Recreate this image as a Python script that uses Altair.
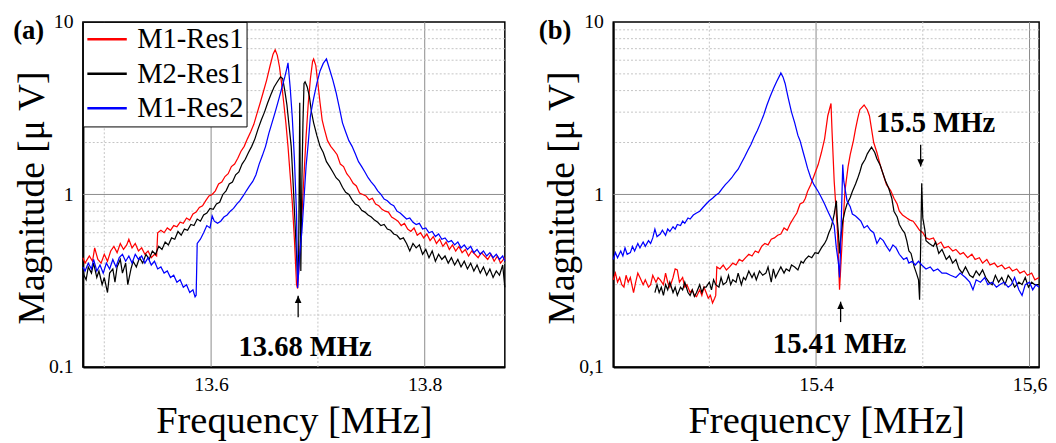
import altair as alt
import pandas as pd

SERIES = ["M1-Res1", "M2-Res1", "M1-Res2"]
COLORS = ["#ff0000", "#000000", "#0000ff"]
FONT = "Liberation Serif, Times New Roman, Tinos, DejaVu Serif, serif"

# ---------------- panel (a) ----------------
a_red_f = [13.480, 13.482, 13.486, 13.489, 13.491, 13.494, 13.497, 13.500, 13.503, 13.506,
           13.509, 13.512, 13.515, 13.518, 13.521, 13.523, 13.526, 13.529, 13.532, 13.535,
           13.538, 13.541, 13.544, 13.547, 13.549, 13.550, 13.553, 13.556, 13.559, 13.562,
           13.565, 13.568, 13.571, 13.574, 13.577, 13.580, 13.583, 13.586, 13.589, 13.592,
           13.595, 13.598, 13.601, 13.604, 13.607, 13.610, 13.613, 13.616, 13.619, 13.622,
           13.625, 13.628, 13.631, 13.634, 13.637, 13.640, 13.643, 13.646, 13.649, 13.652,
           13.655, 13.658, 13.660, 13.662, 13.664, 13.666, 13.668, 13.670, 13.672, 13.674,
           13.676, 13.678, 13.680, 13.681, 13.683, 13.685, 13.687, 13.689, 13.691, 13.693,
           13.695, 13.696, 13.698, 13.700, 13.702, 13.704, 13.706, 13.709, 13.712, 13.715,
           13.718, 13.721, 13.724, 13.727, 13.730, 13.733, 13.736, 13.739, 13.742, 13.745,
           13.748, 13.751, 13.754, 13.757, 13.760, 13.763, 13.766, 13.769, 13.772, 13.775,
           13.778, 13.781, 13.784, 13.787, 13.790, 13.793, 13.796, 13.799, 13.802, 13.805,
           13.808, 13.811, 13.814, 13.817, 13.820, 13.823, 13.826, 13.829, 13.832, 13.835,
           13.838, 13.841, 13.844, 13.847, 13.850, 13.853, 13.856, 13.859, 13.862, 13.865,
           13.868, 13.871, 13.875]
a_red_v = [0.43, 0.40, 0.44, 0.41, 0.49, 0.42, 0.40, 0.45, 0.41, 0.47,
           0.50, 0.46, 0.52, 0.48, 0.51, 0.55, 0.49, 0.52, 0.47, 0.49,
           0.45, 0.47, 0.43, 0.45, 0.44, 0.60, 0.62, 0.60, 0.64, 0.62,
           0.66, 0.65, 0.69, 0.68, 0.73, 0.71, 0.77, 0.79, 0.84, 0.86,
           0.92, 0.98, 1.00, 1.05, 1.15, 1.18, 1.27, 1.32, 1.45, 1.50,
           1.62, 1.78, 1.90, 2.10, 2.30, 2.55, 2.95, 3.40, 3.95, 4.60,
           5.50, 6.50, 6.90, 6.40, 5.50, 4.40, 3.40, 2.60, 1.90, 1.30,
           0.90, 0.55, 0.30, 0.285, 0.45, 0.75, 1.30, 2.20, 3.40, 4.70,
           5.90, 6.10, 5.60, 4.40, 3.40, 2.70, 2.40, 2.05, 1.90, 1.80,
           1.70, 1.50, 1.45, 1.32, 1.25, 1.16, 1.12, 1.02, 1.00, 0.98,
           0.93, 0.95, 0.88, 0.86, 0.82, 0.80, 0.79, 0.74, 0.72, 0.70,
           0.66, 0.68, 0.63, 0.61, 0.64, 0.58, 0.60, 0.56, 0.59, 0.54,
           0.57, 0.52, 0.55, 0.50, 0.53, 0.48, 0.51, 0.47, 0.50, 0.46,
           0.48, 0.44, 0.47, 0.45, 0.43, 0.46, 0.44, 0.42, 0.45, 0.41,
           0.44, 0.40, 0.43]

a_blk_f = [13.480, 13.481, 13.483, 13.485, 13.488, 13.490, 13.493, 13.495, 13.498, 13.500,
           13.503, 13.505, 13.508, 13.510, 13.512, 13.515, 13.517, 13.520, 13.522, 13.525,
           13.527, 13.530, 13.533, 13.536, 13.539, 13.542, 13.545, 13.548, 13.551, 13.554,
           13.557, 13.560, 13.563, 13.566, 13.569, 13.572, 13.575, 13.578, 13.581, 13.584,
           13.587, 13.590, 13.593, 13.596, 13.599, 13.602, 13.605, 13.608, 13.611, 13.614,
           13.617, 13.620, 13.623, 13.626, 13.629, 13.632, 13.635, 13.638, 13.641, 13.644,
           13.647, 13.650, 13.653, 13.656, 13.659, 13.662, 13.665, 13.667, 13.669, 13.671,
           13.673, 13.675, 13.677, 13.679, 13.681, 13.682, 13.683, 13.684, 13.685, 13.686,
           13.687, 13.688, 13.690, 13.692, 13.694, 13.696, 13.699, 13.702, 13.705, 13.708,
           13.711, 13.714, 13.717, 13.720, 13.723, 13.726, 13.729, 13.732, 13.735, 13.738,
           13.741, 13.744, 13.747, 13.750, 13.753, 13.756, 13.759, 13.762, 13.765, 13.768,
           13.771, 13.774, 13.777, 13.780, 13.783, 13.786, 13.789, 13.792, 13.795, 13.798,
           13.801, 13.804, 13.807, 13.810, 13.813, 13.816, 13.819, 13.822, 13.825, 13.828,
           13.831, 13.834, 13.837, 13.840, 13.843, 13.846, 13.849, 13.852, 13.855, 13.858,
           13.861, 13.864, 13.867, 13.870, 13.873, 13.875]
a_blk_v = [0.38, 0.34, 0.32, 0.38, 0.35, 0.40, 0.33, 0.36, 0.30, 0.33,
           0.27, 0.35, 0.37, 0.31, 0.38, 0.42, 0.35, 0.40, 0.30, 0.37,
           0.41, 0.38, 0.43, 0.40, 0.45, 0.42, 0.47, 0.45, 0.50, 0.48,
           0.53, 0.51, 0.56, 0.55, 0.61, 0.58, 0.63, 0.62, 0.67, 0.66,
           0.72, 0.70, 0.76, 0.78, 0.83, 0.82, 0.88, 0.90, 1.00, 1.05,
           1.15, 1.18, 1.30, 1.35, 1.50, 1.60, 1.75, 1.90, 2.10, 2.40,
           2.70, 3.00, 3.40, 3.80, 4.20, 4.50, 4.80, 4.70, 4.00, 3.30,
           2.50, 1.90, 1.10, 0.60, 0.33, 0.45, 3.40, 0.36, 1.20, 2.60,
           4.40, 4.50, 4.20, 3.70, 3.00, 2.60, 2.20, 1.90, 1.75, 1.55,
           1.45, 1.35, 1.25, 1.20, 1.10, 1.03, 1.00, 0.93, 0.88, 0.86,
           0.81, 0.79, 0.76, 0.74, 0.71, 0.69, 0.66, 0.67, 0.63, 0.62,
           0.59, 0.58, 0.55, 0.56, 0.52, 0.47, 0.52, 0.49, 0.51, 0.45,
           0.48, 0.43, 0.47, 0.41, 0.45, 0.42, 0.44, 0.40, 0.43, 0.39,
           0.42, 0.38, 0.41, 0.37, 0.40, 0.36, 0.39, 0.35, 0.38, 0.34,
           0.37, 0.33, 0.36, 0.34, 0.39, 0.29]

a_blu_f = [13.480, 13.482, 13.485, 13.488, 13.490, 13.493, 13.496, 13.499, 13.502, 13.505,
           13.508, 13.511, 13.514, 13.517, 13.520, 13.523, 13.526, 13.529, 13.532, 13.535,
           13.538, 13.541, 13.544, 13.547, 13.550, 13.553, 13.556, 13.559, 13.562, 13.565,
           13.568, 13.571, 13.574, 13.577, 13.580, 13.583, 13.585, 13.586, 13.587, 13.590,
           13.593, 13.596, 13.599, 13.601, 13.603, 13.606, 13.609, 13.612, 13.615, 13.618,
           13.621, 13.624, 13.627, 13.630, 13.633, 13.636, 13.639, 13.642, 13.645, 13.648,
           13.651, 13.654, 13.657, 13.660, 13.663, 13.666, 13.669, 13.671, 13.672, 13.674,
           13.676, 13.678, 13.680, 13.681, 13.683, 13.685, 13.687, 13.689, 13.691, 13.693,
           13.696, 13.699, 13.702, 13.705, 13.708, 13.711, 13.714, 13.717, 13.720, 13.723,
           13.726, 13.729, 13.732, 13.735, 13.738, 13.741, 13.744, 13.747, 13.750, 13.753,
           13.756, 13.759, 13.762, 13.765, 13.768, 13.771, 13.774, 13.777, 13.780, 13.783,
           13.786, 13.789, 13.792, 13.795, 13.798, 13.801, 13.804, 13.807, 13.810, 13.813,
           13.816, 13.819, 13.822, 13.825, 13.828, 13.831, 13.834, 13.837, 13.840, 13.843,
           13.846, 13.849, 13.852, 13.855, 13.858, 13.861, 13.864, 13.867, 13.870, 13.873,
           13.875]
a_blu_v = [0.38, 0.36, 0.40, 0.37, 0.42, 0.36, 0.39, 0.35, 0.40, 0.37,
           0.42, 0.38, 0.43, 0.45, 0.41, 0.44, 0.40, 0.45, 0.42, 0.44,
           0.40, 0.43, 0.39, 0.41, 0.37, 0.38, 0.35, 0.36, 0.33, 0.34,
           0.31, 0.32, 0.29, 0.30, 0.27, 0.28, 0.255, 0.26, 0.52, 0.55,
           0.60, 0.66, 0.64, 0.75, 0.70, 0.68, 0.70, 0.74, 0.76, 0.80,
           0.83, 0.88, 0.92, 0.98, 1.05, 1.12, 1.19, 1.30, 1.50, 1.68,
           1.90, 2.25, 2.60, 3.00, 3.50, 4.10, 4.80, 5.40, 5.80, 4.20,
           2.80, 1.60, 0.77, 0.287, 0.45, 0.61, 0.95, 1.48, 2.00, 2.86,
           3.60, 4.40, 5.20, 5.75, 6.10, 5.30, 4.60, 3.90, 3.20, 2.60,
           2.30, 2.05, 1.90, 1.72, 1.55, 1.45, 1.35, 1.25, 1.18, 1.12,
           1.05, 1.00, 0.94, 0.92, 0.88, 0.86, 0.80, 0.78, 0.75, 0.72,
           0.73, 0.69, 0.67, 0.68, 0.63, 0.64, 0.60, 0.61, 0.57, 0.59,
           0.55, 0.56, 0.53, 0.54, 0.51, 0.53, 0.49, 0.51, 0.48, 0.50,
           0.46, 0.48, 0.45, 0.47, 0.44, 0.46, 0.43, 0.45, 0.42, 0.44,
           0.41]

# ---------------- panel (b) ----------------
b_red_f = [15.210, 15.212, 15.214, 15.216, 15.218, 15.220, 15.222, 15.224, 15.226, 15.229,
           15.231, 15.233, 15.235, 15.238, 15.240, 15.243, 15.245, 15.247, 15.250, 15.252,
           15.254, 15.257, 15.259, 15.261, 15.263, 15.266, 15.268, 15.270, 15.272, 15.275,
           15.277, 15.279, 15.282, 15.284, 15.286, 15.288, 15.291, 15.293, 15.295, 15.297,
           15.299, 15.301, 15.303, 15.305, 15.306, 15.307, 15.310, 15.313, 15.316, 15.319,
           15.322, 15.325, 15.328, 15.331, 15.334, 15.337, 15.340, 15.343, 15.346, 15.349,
           15.352, 15.355, 15.358, 15.361, 15.364, 15.367, 15.370, 15.373, 15.376, 15.379,
           15.382, 15.385, 15.388, 15.390, 15.392, 15.395, 15.398, 15.402, 15.405, 15.408,
           15.411, 15.414, 15.415, 15.417, 15.420, 15.422, 15.425, 15.427, 15.430, 15.432,
           15.435, 15.437, 15.439, 15.441, 15.445, 15.448, 15.450, 15.454, 15.457, 15.460,
           15.463, 15.466, 15.470, 15.473, 15.476, 15.478, 15.481, 15.485, 15.488, 15.491,
           15.494, 15.497, 15.500, 15.503, 15.506, 15.510, 15.513, 15.517, 15.520, 15.524,
           15.528, 15.531, 15.535, 15.538, 15.542, 15.546, 15.549, 15.553, 15.556, 15.560,
           15.563, 15.567, 15.570, 15.574, 15.577, 15.581, 15.584, 15.588, 15.591, 15.595,
           15.598, 15.602, 15.605, 15.609]
b_red_v = [0.32, 0.35, 0.31, 0.33, 0.30, 0.29, 0.34, 0.31, 0.33, 0.27,
           0.31, 0.35, 0.33, 0.30, 0.32, 0.29, 0.30, 0.34, 0.31, 0.33,
           0.32, 0.30, 0.35, 0.31, 0.29, 0.33, 0.37, 0.365, 0.31, 0.33,
           0.29, 0.30, 0.27, 0.28, 0.26, 0.256, 0.28, 0.26, 0.29, 0.27,
           0.25, 0.26, 0.235, 0.25, 0.26, 0.38, 0.37, 0.39, 0.365, 0.38,
           0.40, 0.39, 0.42, 0.41, 0.43, 0.45, 0.44, 0.47, 0.46, 0.50,
           0.52, 0.51, 0.55, 0.56, 0.58, 0.59, 0.64, 0.62, 0.68, 0.73,
           0.78, 0.88, 0.90, 0.95, 1.04, 1.14, 1.28, 1.49, 1.75, 2.10,
           2.86, 3.37, 2.30, 1.19, 0.62, 0.28, 0.62, 1.04, 1.45, 1.70,
           2.05, 2.40, 2.75, 3.10, 3.30, 3.10, 2.86, 2.00, 1.75, 1.49,
           1.30, 1.14, 1.05, 0.95, 0.88, 0.80, 0.76, 0.73, 0.71, 0.70,
           0.66, 0.62, 0.60, 0.56, 0.55, 0.56, 0.51, 0.53, 0.49, 0.50,
           0.47, 0.48, 0.45, 0.46, 0.43, 0.45, 0.42, 0.43, 0.40, 0.42,
           0.39, 0.40, 0.38, 0.39, 0.37, 0.38, 0.36, 0.37, 0.35, 0.36,
           0.34, 0.35, 0.32, 0.33]

b_blk_f = [15.249, 15.251, 15.253, 15.255, 15.257, 15.259, 15.261, 15.263, 15.266, 15.268,
           15.270, 15.273, 15.275, 15.277, 15.280, 15.282, 15.284, 15.286, 15.288, 15.291,
           15.293, 15.295, 15.297, 15.300, 15.302, 15.304, 15.306, 15.309, 15.311, 15.313,
           15.316, 15.318, 15.320, 15.322, 15.325, 15.327, 15.330, 15.332, 15.334, 15.337,
           15.340, 15.342, 15.344, 15.347, 15.350, 15.353, 15.355, 15.358, 15.360, 15.362,
           15.365, 15.367, 15.370, 15.372, 15.375, 15.377, 15.380, 15.383, 15.386, 15.388,
           15.390, 15.393, 15.396, 15.399, 15.402, 15.405, 15.408, 15.410, 15.412, 15.414,
           15.416, 15.417, 15.419, 15.420, 15.421, 15.422, 15.423, 15.425, 15.427, 15.429,
           15.432, 15.434, 15.437, 15.439, 15.441, 15.443, 15.446, 15.448, 15.450, 15.452,
           15.455, 15.457, 15.460, 15.462, 15.465, 15.468, 15.471, 15.473, 15.476, 15.478,
           15.481, 15.483, 15.485, 15.487, 15.489, 15.492, 15.494, 15.496, 15.497, 15.498,
           15.499, 15.500, 15.502, 15.503, 15.506, 15.510, 15.512, 15.515, 15.518, 15.522,
           15.525, 15.528, 15.531, 15.534, 15.537, 15.540, 15.544, 15.547, 15.550, 15.553,
           15.556, 15.559, 15.562, 15.565, 15.568, 15.571, 15.574, 15.577, 15.580, 15.583,
           15.586, 15.590, 15.593, 15.596, 15.599, 15.602, 15.605, 15.609]
b_blk_v = [0.27, 0.30, 0.27, 0.29, 0.26, 0.30, 0.28, 0.31, 0.27, 0.29,
           0.26, 0.29, 0.28, 0.31, 0.27, 0.26, 0.28, 0.256, 0.27, 0.30,
           0.27, 0.29, 0.29, 0.31, 0.28, 0.32, 0.30, 0.29, 0.33, 0.30,
           0.31, 0.34, 0.30, 0.32, 0.31, 0.35, 0.30, 0.33, 0.32, 0.36,
           0.33, 0.35, 0.32, 0.36, 0.34, 0.35, 0.38, 0.31, 0.37, 0.33,
           0.36, 0.38, 0.35, 0.37, 0.36, 0.39, 0.38, 0.365, 0.41, 0.40,
           0.42, 0.44, 0.43, 0.46, 0.455, 0.49, 0.52, 0.55, 0.60, 0.64,
           0.72, 0.77, 0.92, 0.70, 0.59, 0.455, 0.55, 0.70, 0.80, 0.88,
           0.96, 1.04, 1.15, 1.24, 1.35, 1.49, 1.60, 1.72, 1.80, 1.88,
           1.75, 1.61, 1.48, 1.36, 1.20, 1.09, 0.95, 0.80, 0.74, 0.67,
           0.62, 0.60, 0.54, 0.47, 0.455, 0.38, 0.35, 0.32, 0.245, 0.50,
           1.16, 0.73, 0.62, 0.54, 0.52, 0.50, 0.53, 0.455, 0.48, 0.42,
           0.44, 0.40, 0.42, 0.37, 0.35, 0.38, 0.34, 0.33, 0.36, 0.34,
           0.365, 0.33, 0.31, 0.30, 0.34, 0.31, 0.33, 0.30, 0.34, 0.32,
           0.29, 0.31, 0.30, 0.33, 0.29, 0.31, 0.30, 0.30]

b_blu_f = [15.210, 15.212, 15.214, 15.217, 15.219, 15.221, 15.223, 15.226, 15.228, 15.230,
           15.233, 15.235, 15.238, 15.240, 15.243, 15.245, 15.247, 15.249, 15.251, 15.254,
           15.256, 15.259, 15.261, 15.263, 15.266, 15.268, 15.270, 15.273, 15.275, 15.277,
           15.280, 15.282, 15.285, 15.288, 15.291, 15.294, 15.297, 15.300, 15.303, 15.306,
           15.309, 15.312, 15.315, 15.318, 15.321, 15.324, 15.327, 15.330, 15.333, 15.336,
           15.339, 15.342, 15.345, 15.348, 15.351, 15.354, 15.357, 15.360, 15.363, 15.366,
           15.367, 15.369, 15.371, 15.374, 15.377, 15.380, 15.383, 15.385, 15.388, 15.390,
           15.392, 15.395, 15.398, 15.402, 15.405, 15.408, 15.411, 15.414, 15.417, 15.419,
           15.421, 15.422, 15.423, 15.425, 15.426, 15.429, 15.432, 15.434, 15.437, 15.439,
           15.442, 15.445, 15.448, 15.451, 15.454, 15.457, 15.460, 15.463, 15.466, 15.469,
           15.472, 15.475, 15.478, 15.482, 15.485, 15.487, 15.490, 15.493, 15.496, 15.499,
           15.503, 15.507, 15.510, 15.514, 15.518, 15.522, 15.526, 15.531, 15.535, 15.540,
           15.544, 15.547, 15.550, 15.554, 15.558, 15.561, 15.565, 15.569, 15.572, 15.576,
           15.580, 15.583, 15.586, 15.590, 15.593, 15.596, 15.600, 15.603, 15.606, 15.609]
b_blu_v = [0.42, 0.46, 0.43, 0.47, 0.44, 0.49, 0.45, 0.46, 0.50, 0.47,
           0.52, 0.49, 0.53, 0.50, 0.54, 0.52, 0.56, 0.63, 0.57, 0.59,
           0.62, 0.58, 0.63, 0.61, 0.65, 0.63, 0.67, 0.66, 0.70, 0.68,
           0.73, 0.72, 0.76, 0.78, 0.80, 0.84, 0.88, 0.92, 0.95, 0.99,
           1.02, 1.08, 1.14, 1.19, 1.25, 1.33, 1.40, 1.52, 1.65, 1.80,
           1.95, 2.15, 2.35, 2.60, 2.90, 3.30, 3.70, 4.10, 4.50, 4.90,
           5.06, 4.80, 4.40, 3.60, 3.00, 2.60, 2.20, 2.05, 1.75, 1.58,
           1.42, 1.25, 1.14, 1.04, 0.96, 0.88, 0.80, 0.73, 0.66, 0.49,
           0.40, 0.33, 0.49, 1.49, 1.19, 0.92, 0.85, 0.77, 0.75, 0.73,
           0.70, 0.64, 0.66, 0.62, 0.60, 0.52, 0.56, 0.54, 0.50, 0.47,
           0.51, 0.49, 0.45, 0.42, 0.43, 0.40, 0.41, 0.39, 0.41, 0.39,
           0.37, 0.38, 0.36, 0.37, 0.35, 0.35, 0.34, 0.33, 0.35, 0.33,
           0.31, 0.28, 0.32, 0.31, 0.33, 0.30, 0.31, 0.29, 0.30, 0.31,
           0.29, 0.30, 0.33, 0.28, 0.26, 0.30, 0.31, 0.28, 0.30, 0.29]

# ---------------- grids, ticks, annotations ----------------
a_x_domain = [13.480, 13.875]
b_x_domain = [15.210, 15.609]
y_domain = [0.1, 10]
a_x_major = [13.6, 13.8]
a_x_minor = [13.5, 13.7]
b_x_major = [15.4, 15.6]
b_x_minor = [15.3, 15.5]
y_major = [1]
y_minor = [0.2, 0.3, 0.4, 0.5, 0.6, 0.7, 0.8, 0.9, 2, 3, 4, 5, 6, 7, 8, 9]
y_ticks = [0.1, 1, 10]

a_ann_x = [13.688]
a_ann_y = [0.13]
a_ann_t = ["13.68 MHz"]
a_arr_x = [13.6815]
a_arr_tip = [0.259]
a_arr_tail = [0.194]
a_arr_dir = ["up"]

b_ann_x = [15.422, 15.512]
b_ann_y = [0.136, 2.59]
b_ann_t = ["15.41 MHz", "15.5 MHz"]
b_arr_x = [15.423, 15.498]
b_arr_tip = [0.239, 1.45]
b_arr_tail = [0.182, 1.94]
b_arr_dir = ["up", "down"]

ARROW_UP = "M0,0L-0.55,1.2L0.55,1.2Z"
ARROW_DOWN = "M0,0L-0.55,-1.2L0.55,-1.2Z"

W_A, W_B, H = 428, 432, 350


def lines_df(fr, vr, fk, vk, fb, vb):
    rows = []
    for name, fs, vs in ((SERIES[0], fr, vr), (SERIES[1], fk, vk), (SERIES[2], fb, vb)):
        for f, v in zip(fs, vs):
            rows.append({"f": f, "v": v, "s": name})
    return pd.DataFrame(rows)


def panel(df, xdom, xmaj, xmin, xlabel_expr, ylabel_expr, ann, arr, tag, tag_x, width, legend):
    xs = alt.Scale(domain=xdom, nice=False, zero=False)
    ys = alt.Scale(type="log", domain=y_domain, nice=False)
    xaxis = alt.Axis(
        values=xmaj, labelExpr=xlabel_expr, title="Frequency [MHz]",
        titleFontSize=39, titleFont=FONT, titleFontWeight="normal", titleColor="black",
        titlePadding=7, labelPadding=8, labelFontSize=20, labelFont=FONT, labelColor="black",
        ticks=False, grid=False, domainColor="black", domainWidth=2)
    yaxis = alt.Axis(
        values=y_ticks, labelExpr=ylabel_expr, title="Magnitude [μ V]",
        titleFontSize=38, titleFont=FONT, titleFontWeight="normal", titleColor="black",
        titleX=-32, titleY=178,
        labelPadding=10, labelFontSize=20, labelFont=FONT, labelColor="black",
        ticks=False, grid=False, domainColor="black", domainWidth=2)

    def X(field):
        return alt.X(field, type="quantitative", scale=xs, axis=xaxis)

    def Y(field):
        return alt.Y(field, type="quantitative", scale=ys, axis=yaxis)

    lines = alt.Chart(df).mark_line(strokeWidth=1.25).encode(
        x=X("f"), y=Y("v"),
        color=alt.Color("s:N", scale=alt.Scale(domain=SERIES, range=COLORS), legend=legend),
    )
    vgrid_min = alt.Chart(pd.DataFrame({"f": xmin})).mark_rule(
        color="#c4c4c4", strokeWidth=1, strokeDash=[2, 2]).encode(x=X("f"))
    vgrid_maj = alt.Chart(pd.DataFrame({"f": xmaj})).mark_rule(
        color="#8a8a8a", strokeWidth=1).encode(x=X("f"))
    hgrid_min = alt.Chart(pd.DataFrame({"v": y_minor})).mark_rule(
        color="#c4c4c4", strokeWidth=1, strokeDash=[2, 2]).encode(y=Y("v"))
    hgrid_maj = alt.Chart(pd.DataFrame({"v": y_major})).mark_rule(
        color="#8a8a8a", strokeWidth=1).encode(y=Y("v"))

    adf = pd.DataFrame({"f": arr[0], "v": arr[1], "tail": arr[2], "d": arr[3]})
    arrow_rule = alt.Chart(adf).mark_rule(color="black", strokeWidth=1.3).encode(
        x=X("f"), y=Y("v"), y2="tail:Q")
    arrow_head = alt.Chart(adf).mark_point(filled=True, color="black", opacity=1, size=150).encode(
        x=X("f"), y=Y("v"),
        shape=alt.Shape("d:N", scale=alt.Scale(domain=["up", "down"], range=[ARROW_UP, ARROW_DOWN]),
                        legend=None),
    )
    tdf = pd.DataFrame({"f": ann[0], "v": ann[1], "t": ann[2]})
    texts = alt.Chart(tdf).mark_text(
        font=FONT, fontWeight="bold", fontSize=29, color="black", align="center", baseline="middle"
    ).encode(x=X("f"), y=Y("v"), text="t:N")
    tag_layer = alt.Chart(pd.DataFrame({"t": [tag]})).mark_text(
        font=FONT, fontWeight="bold", fontSize=27, color="black", align="center", baseline="middle"
    ).encode(x=alt.value(tag_x), y=alt.value(9), text="t:N")

    return alt.layer(
        vgrid_min, vgrid_maj, hgrid_min, hgrid_maj, lines, arrow_rule, arrow_head, texts, tag_layer
    ).properties(width=width, height=H)


legend_a = alt.Legend(
    title=None, orient="top-left", offset=0, symbolType="M-2,0L2,0", symbolSize=400,
    symbolStrokeWidth=2.6, symbolOffset=7, labelOffset=16, labelFont=FONT, labelFontSize=29,
    labelColor="black", labelLimit=400, strokeColor="black", fillColor="white",
    padding=3, rowPadding=5,
)

pa = panel(
    lines_df(a_red_f, a_red_v, a_blk_f, a_blk_v, a_blu_f, a_blu_v),
    a_x_domain, a_x_major, a_x_minor,
    "format(datum.value, '.1f')",
    "datum.value < 0.5 ? '0.1' : (datum.value < 5 ? '1' : '10')",
    (a_ann_x, a_ann_y, a_ann_t), (a_arr_x, a_arr_tip, a_arr_tail, a_arr_dir),
    "(a)", -55, W_A, legend_a,
)
pb = panel(
    lines_df(b_red_f, b_red_v, b_blk_f, b_blk_v, b_blu_f, b_blu_v),
    b_x_domain, b_x_major, b_x_minor,
    "datum.value < 15.5 ? '15.4' : '15,6'",
    "datum.value < 0.5 ? '0,1' : (datum.value < 5 ? '1' : '10')",
    (b_ann_x, b_ann_y, b_ann_t), (b_arr_x, b_arr_tip, b_arr_tail, b_arr_dir),
    "(b)", -59, W_B, None,
)

chart = alt.hconcat(pa, pb, spacing=29).resolve_scale(
    color="independent", shape="independent"
).resolve_legend(color="independent", shape="independent").properties(
    padding={"left": 4, "top": 0, "right": 0, "bottom": 0}
).configure(font=FONT).configure_view(stroke="black", strokeWidth=1.5)

chart.save("out.html", embed_options={"renderer": "svg", "actions": False})
